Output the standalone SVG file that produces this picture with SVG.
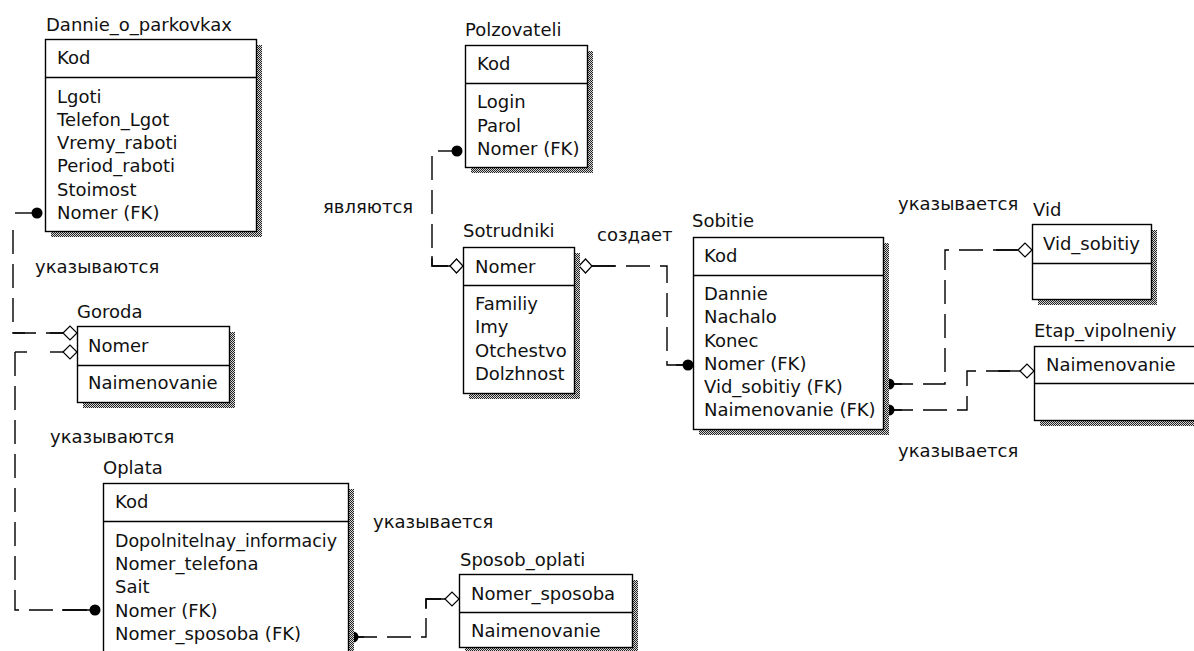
<svg xmlns="http://www.w3.org/2000/svg" width="1194" height="651" viewBox="0 0 1194 651">
<defs>
<pattern id="sh" width="2" height="2" patternUnits="userSpaceOnUse">
<rect width="2" height="2" fill="#d8d8d8"/>
<rect width="1" height="1" fill="#222"/>
<rect x="1" y="1" width="1" height="1" fill="#222"/>
</pattern>
</defs>
<style>
text{font-family:"DejaVu Sans","Liberation Sans",sans-serif;font-size:18px;fill:#111}
.box{fill:#fff;stroke:#000;stroke-width:1.4}
.shadow{fill:url(#sh)}
.sep{stroke:#000;stroke-width:1.4}
.rel{fill:none;stroke:#000;stroke-width:1.4;stroke-dasharray:24 10}
.stub{fill:none;stroke:#000;stroke-width:1.4}
.dia{fill:#fff;stroke:#000;stroke-width:1.2}
.dot{fill:#000}
</style>
<rect width="1194" height="651" fill="#fff"/>

<g id="connectors">
<!-- Dannie -> Goroda -->
<path class="rel" d="M13,230 V333 H63"/>
<path class="stub" d="M15,213 H37"/>
<path class="stub" d="M13,333 H25"/>
<path class="stub" d="M50,333 H63"/>
<circle class="dot" cx="37" cy="213" r="5.5"/>
<polygon class="dia" points="63,333 70,326 77,333 70,340"/>
<!-- Oplata -> Goroda -->
<path class="rel" d="M15,352 V610 H95"/>
<path class="stub" d="M15,352 H27"/>
<path class="stub" d="M50,352 H63"/>
<path class="stub" d="M62,610 H95"/>
<circle class="dot" cx="95" cy="610" r="5.5"/>
<polygon class="dia" points="63,352 70,345 77,352 70,359"/>
<!-- Polzovateli -> Sotrudniki -->
<path class="rel" d="M432,156 V266 H450"/>
<path class="stub" d="M438,151 H457"/>
<path class="stub" d="M432,256 V266 H450"/>
<circle class="dot" cx="457" cy="151" r="5.5"/>
<polygon class="dia" points="450,266 456.5,259 463,266 456.5,273"/>
<!-- Sotrudniki -> Sobitie -->
<path class="rel" d="M592,266 H667 V365 H688"/>
<path class="stub" d="M592,266 H615"/>
<path class="stub" d="M676,365 H688"/>
<circle class="dot" cx="688" cy="365" r="5.5"/>
<polygon class="dia" points="579,266 585.5,259 592,266 585.5,273"/>
<!-- Sobitie -> Vid -->
<path class="rel" d="M889,384 H945 V250 H1018"/>
<path class="stub" d="M889,384 H902"/>
<path class="stub" d="M996,250 H1018"/>
<circle class="dot" cx="889" cy="384" r="5.5"/>
<polygon class="dia" points="1018,250 1025,243 1032,250 1025,257"/>
<!-- Sobitie -> Etap -->
<path class="rel" d="M889,410 H967 V371 H1020"/>
<path class="stub" d="M889,410 H902"/>
<path class="stub" d="M998,371 H1020"/>
<circle class="dot" cx="889" cy="410" r="5.5"/>
<polygon class="dia" points="1020,371 1027,364 1034,371 1027,378"/>
<!-- Oplata -> Sposob_oplati -->
<path class="rel" d="M353,637 H426 V599 H445"/>
<path class="stub" d="M353,637 H364"/>
<path class="stub" d="M426,609 V599 H445"/>
<circle class="dot" cx="353" cy="637" r="5.5"/>
<polygon class="dia" points="445,599 452,592 459,599 452,606"/>
</g>

<g id="dannie_o_parkovkax">
<rect class="shadow" x="51" y="45" width="211" height="192"/>
<rect class="box" x="45.5" y="39.5" width="211" height="192"/>
<line class="sep" x1="45.5" y1="77.5" x2="256.5" y2="77.5"/>
<text x="46" y="31">Dannie_o_parkovkax</text>
<text x="57" y="64">Kod</text>
<text x="57" y="103">Lgoti</text>
<text x="57" y="126">Telefon_Lgot</text>
<text x="57" y="149">Vremy_raboti</text>
<text x="57" y="172">Period_raboti</text>
<text x="57" y="196">Stoimost</text>
<text x="57" y="219">Nomer (FK)</text>
</g>

<g id="goroda">
<rect class="shadow" x="83" y="332" width="152" height="76"/>
<rect class="box" x="77.5" y="326.5" width="152" height="76"/>
<line class="sep" x1="77.5" y1="365.5" x2="229.5" y2="365.5"/>
<text x="77" y="318">Goroda</text>
<text x="88" y="352">Nomer</text>
<text x="88" y="389">Naimenovanie</text>
</g>

<g id="oplata">
<rect class="shadow" x="109" y="489" width="245" height="200"/>
<rect class="box" x="103.5" y="483.5" width="245" height="200"/>
<line class="sep" x1="103.5" y1="521.5" x2="348.5" y2="521.5"/>
<text x="103" y="474">Oplata</text>
<text x="115" y="508">Kod</text>
<text x="115" y="547" textLength="222" lengthAdjust="spacingAndGlyphs">Dopolnitelnay_informaciy</text>
<text x="115" y="570">Nomer_telefona</text>
<text x="115" y="593">Sait</text>
<text x="115" y="617">Nomer (FK)</text>
<text x="115" y="640">Nomer_sposoba (FK)</text>
</g>

<g id="sposob_oplati">
<rect class="shadow" x="465" y="580" width="173" height="73"/>
<rect class="box" x="459.5" y="574.5" width="173" height="73"/>
<line class="sep" x1="459.5" y1="612.5" x2="632.5" y2="612.5"/>
<text x="460" y="566">Sposob_oplati</text>
<text x="471" y="600">Nomer_sposoba</text>
<text x="471" y="637">Naimenovanie</text>
</g>

<g id="polzovateli">
<rect class="shadow" x="471" y="51" width="122" height="122"/>
<rect class="box" x="465.5" y="45.5" width="122" height="122"/>
<line class="sep" x1="465.5" y1="83.5" x2="587.5" y2="83.5"/>
<text x="465" y="36">Polzovateli</text>
<text x="477" y="70">Kod</text>
<text x="477" y="108">Login</text>
<text x="477" y="132">Parol</text>
<text x="477" y="155">Nomer (FK)</text>
</g>

<g id="sotrudniki">
<rect class="shadow" x="469" y="253" width="111" height="146"/>
<rect class="box" x="463.5" y="247.5" width="111" height="146"/>
<line class="sep" x1="463.5" y1="285.5" x2="574.5" y2="285.5"/>
<text x="463" y="237">Sotrudniki</text>
<text x="475" y="273">Nomer</text>
<text x="475" y="310">Familiy</text>
<text x="475" y="333">Imy</text>
<text x="475" y="357">Otchestvo</text>
<text x="475" y="380">Dolzhnost</text>
</g>

<g id="sobitie">
<rect class="shadow" x="699" y="243" width="190" height="192"/>
<rect class="box" x="693.5" y="237.5" width="190" height="192"/>
<line class="sep" x1="693.5" y1="275.5" x2="883.5" y2="275.5"/>
<text x="692" y="227">Sobitie</text>
<text x="704" y="262">Kod</text>
<text x="704" y="300">Dannie</text>
<text x="704" y="323">Nachalo</text>
<text x="704" y="347">Konec</text>
<text x="704" y="370">Nomer (FK)</text>
<text x="704" y="393">Vid_sobitiy (FK)</text>
<text x="704" y="416">Naimenovanie (FK)</text>
</g>

<g id="vid">
<rect class="shadow" x="1038" y="230" width="119" height="75"/>
<rect class="box" x="1032.5" y="224.5" width="119" height="75"/>
<line class="sep" x1="1032.5" y1="263.5" x2="1151.5" y2="263.5"/>
<text x="1033" y="216">Vid</text>
<text x="1043" y="250">Vid_sobitiy</text>
</g>

<g id="etap_vipolneniy">
<rect class="shadow" x="1040" y="352" width="170" height="74"/>
<rect class="box" x="1034.5" y="346.5" width="170" height="74"/>
<line class="sep" x1="1034.5" y1="383.5" x2="1204.5" y2="383.5"/>
<text x="1034" y="337">Etap_vipolneniy</text>
<text x="1046" y="371">Naimenovanie</text>
</g>

<g id="labels">
<text x="35" y="273">указываются</text>
<text x="50" y="443">указываются</text>
<text x="323" y="213">являются</text>
<text x="597" y="241">создает</text>
<text x="373" y="528">указывается</text>
<text x="898" y="210">указывается</text>
<text x="898" y="457">указывается</text>
</g>
</svg>
